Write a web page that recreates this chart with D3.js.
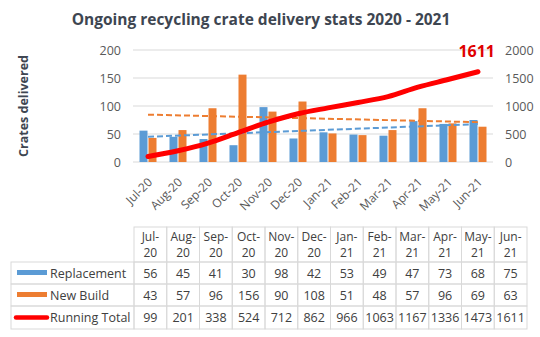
<!DOCTYPE html>
<html><head><meta charset="utf-8">
<script src="https://cdn.jsdelivr.net/npm/d3@7/dist/d3.min.js"></script>
<style>
html,body{margin:0;padding:0;background:#fff;}
svg{display:block;font-family:"Open Sans",Calibri,sans-serif;}
</style></head>
<body><svg id="c" width="540" height="337"></svg>
<script>
const months = ["Jul-20","Aug-20","Sep-20","Oct-20","Nov-20","Dec-20","Jan-21","Feb-21","Mar-21","Apr-21","May-21","Jun-21"];
const replacement = [56,45,41,30,98,42,53,49,47,73,68,75];
const newBuild = [43,57,96,156,90,108,51,48,57,96,69,63];
const runningTotal = [99,201,338,524,712,862,966,1063,1167,1336,1473,1611];
const leftTicks = [0,50,100,150,200];
const rightTicks = [0,500,1000,1500,2000];
const seriesNames = ["Replacement","New Build","Running Total"];

const BLUE="#5B9BD5", ORANGE="#ED7D31", RED="#FF0000";
const svg = d3.select("#c");

// Title
svg.append("text").attr("x",261).attr("y",25).attr("text-anchor","middle")
  .attr("font-size",15.5).attr("font-weight","bold").attr("fill","#3E4651")
  .text("Ongoing recycling crate delivery stats 2020 - 2021");

const x = d3.scaleBand().domain(months).range([133,493]);
const y = d3.scaleLinear().domain([0,200]).range([162,50]);
const y2 = d3.scaleLinear().domain([0,2000]).range([162,50]);

// grid
svg.append("g").selectAll("line").data(leftTicks).join("line")
  .attr("x1",133).attr("x2",493).attr("y1",d=>y(d)).attr("y2",d=>y(d))
  .attr("stroke","#D9D9D9").attr("stroke-width",1);

// left axis
const la = svg.append("g").attr("transform","translate(133,0)")
  .call(d3.axisLeft(y).tickValues(leftTicks).tickSize(0).tickPadding(12).tickFormat(d3.format("d")));
la.select(".domain").remove();
la.selectAll("text").attr("font-size",12.5).attr("fill","#595959").attr("font-family","'Open Sans',sans-serif");

const ra = svg.append("g").attr("transform","translate(493,0)")
  .call(d3.axisRight(y2).tickValues(rightTicks).tickSize(0).tickPadding(12).tickFormat(d3.format("d")));
ra.select(".domain").remove();
ra.selectAll("text").attr("font-size",12.5).attr("fill","#595959").attr("font-family","'Open Sans',sans-serif");

// y title
svg.append("text").attr("transform","translate(28,106) rotate(-90)").attr("text-anchor","middle")
  .attr("font-size",12.5).attr("font-weight","bold").attr("fill","#3E4651").text("Crates delivered");

// bars
const bw = 8;
const cx = d => x(d)+x.bandwidth()/2;
svg.append("g").selectAll("rect").data(months).join("rect")
  .attr("x",d=>cx(d)-bw-0.5).attr("width",bw)
  .attr("y",(d,i)=>y(replacement[i])).attr("height",(d,i)=>y(0)-y(replacement[i]))
  .attr("fill",BLUE);
svg.append("g").selectAll("rect").data(months).join("rect")
  .attr("x",d=>cx(d)+0.5).attr("width",bw)
  .attr("y",(d,i)=>y(newBuild[i])).attr("height",(d,i)=>y(0)-y(newBuild[i]))
  .attr("fill",ORANGE);

// trendlines (least squares)
function trend(vals){
  const n=vals.length, xs=d3.range(n);
  const mx=d3.mean(xs), my=d3.mean(vals);
  const sxy=d3.sum(xs,(v,i)=>(v-mx)*(vals[i]-my)), sxx=d3.sum(xs,v=>(v-mx)*(v-mx));
  const b=sxy/sxx, a=my-b*mx;
  return [[0,a],[n-1,a+b*(n-1)]];
}
[[newBuild,ORANGE],[replacement,BLUE]].forEach(([vals,col])=>{
  const t=trend(vals);
  svg.append("line").attr("x1",cx(months[t[0][0]])).attr("y1",y(t[0][1]))
    .attr("x2",cx(months[t[1][0]])).attr("y2",y(t[1][1]))
    .attr("stroke",col).attr("stroke-width",2).attr("stroke-dasharray","6,3");
});

// running total line
const line = d3.line().x((d,i)=>cx(months[i])).y(d=>y2(d)).curve(d3.curveMonotoneX);
svg.append("path").datum(runningTotal).attr("d",line).attr("fill","none")
  .attr("stroke",RED).attr("stroke-width",5).attr("stroke-linecap","round");

// label
svg.append("text").attr("x",cx(months[11])+17).attr("y",57).attr("text-anchor","end")
  .attr("font-size",16).attr("font-weight","bold").attr("fill","#E00000")
  .text(runningTotal[11]);

// x labels
svg.append("g").selectAll("text").data(months).join("text")
  .attr("transform",d=>`translate(${cx(d)+5},183) rotate(-45)`)
  .attr("text-anchor","end").attr("font-size",12).attr("fill","#595959")
  .text(d=>d);

// data table
const tx0=134, tx1=527, lx0=11;
const cw=(tx1-tx0)/months.length;
const rows=[227,262,284,306,329];
const g=svg.append("g");
const grid="#D9D9D9";
months.forEach((m,i)=>{
  const xl=tx0+i*cw;
  g.append("rect").attr("x",xl).attr("y",rows[0]).attr("width",cw).attr("height",rows[1]-rows[0])
    .attr("fill","none").attr("stroke",grid);
  const parts=m.split("-");
  g.append("text").attr("x",xl+cw/2).attr("y",rows[0]+14).attr("text-anchor","middle")
    .attr("font-size",12).attr("fill","#404040").text(parts[0]+"-");
  g.append("text").attr("x",xl+cw/2).attr("y",rows[0]+30).attr("text-anchor","middle")
    .attr("font-size",12).attr("fill","#404040").text(parts[1]);
});
const data=[replacement,newBuild,runningTotal];
data.forEach((vals,r)=>{
  const yt=rows[r+1], yb=rows[r+2];
  g.append("rect").attr("x",lx0).attr("y",yt).attr("width",tx0-lx0).attr("height",yb-yt)
    .attr("fill","none").attr("stroke",grid);
  vals.forEach((v,i)=>{
    const xl=tx0+i*cw;
    g.append("rect").attr("x",xl).attr("y",yt).attr("width",cw).attr("height",yb-yt)
      .attr("fill","none").attr("stroke",grid);
    g.append("text").attr("x",xl+cw/2).attr("y",(yt+yb)/2+4.5).attr("text-anchor","middle")
      .attr("font-size",12.5).attr("fill","#404040").text(v);
  });
  g.append("text").attr("x",50).attr("y",(yt+yb)/2+4.5).attr("font-size",12.5).attr("fill","#404040")
    .text(seriesNames[r]);
  const my=(yt+yb)/2;
  if(r<2){
    g.append("rect").attr("x",17).attr("y",my-3).attr("width",30).attr("height",5)
      .attr("fill",r===0?BLUE:ORANGE);
  } else {
    g.append("line").attr("x1",16).attr("x2",47).attr("y1",my).attr("y2",my)
      .attr("stroke",RED).attr("stroke-width",4.5).attr("stroke-linecap","round");
  }
});
</script></body></html>
